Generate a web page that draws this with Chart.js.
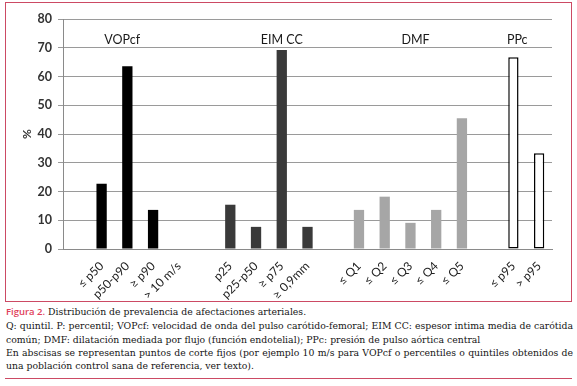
<!DOCTYPE html>
<html>
<head>
<meta charset="utf-8">
<script src="https://cdn.jsdelivr.net/npm/chart.js@4.4.1/dist/chart.umd.min.js"></script>
<style>
  html, body { margin: 0; padding: 0; background: #fff; }
  body { width: 577px; height: 386px; position: relative; overflow: hidden; }
  #box { position: absolute; left: 5px; top: 2px; width: 565px; height: 298px; border: 1.5px solid #cc4a64; }
  #wrap { position: absolute; left: 0; top: 0; width: 577px; height: 300px; }
  .cap { position: absolute; left: 6px; width: 567px; font-family: "DejaVu Serif", serif; font-size: 9.3px; color: #151515; line-height: 13.5px; white-space: nowrap; }
  .just { text-align: justify; text-align-last: justify; }
  #fig { color: #e0405a; font-family: "Open Sans", sans-serif; font-weight: 600; font-size: 9.5px; }
  #rule { position: absolute; left: 5px; top: 378px; width: 567px; height: 0; border-top: 1.5px solid #cc4a64; }
</style>
</head>
<body>
<div id="box"></div>
<div id="wrap"><canvas id="c" width="577" height="300"></canvas></div>
<div class="cap" style="top:305px"><span id="fig">Figura 2.</span> Distribución de prevalencia de afectaciones arteriales.</div>
<div class="cap just" style="top:319px">Q: quintil. P: percentil; VOPcf: velocidad de onda del pulso carótido-femoral; EIM CC: espesor intima media de carótida</div>
<div class="cap" style="top:333px">común; DMF: dilatación mediada por flujo (función endotelial); PPc: presión de pulso aórtica central</div>
<div class="cap just" style="top:346px">En abscisas se representan puntos de corte fijos (por ejemplo 10 m/s para VOPcf o percentiles o quintiles obtenidos de</div>
<div class="cap" style="top:359px">una población control sana de referencia, ver texto).</div>
<div id="rule"></div>
<script>
// ---- data ----
const groupNames = ['VOPcf', 'EIM CC', 'DMF', 'PPc'];
const vopLabels = ['≤ p50', 'p50-p90', '≥ p90', '> 10 m/s'];
const vopValues = [22.7, 63.6, 13.6, 0];
const eimLabels = ['p25', 'p25-p50', '≥ p75', '≥ 0,9mm'];
const eimValues = [15.4, 7.7, 69.2, 7.7];
const dmfLabels = ['≤ Q1', '≤ Q2', '≤ Q3', '≤ Q4', '≤ Q5'];
const dmfValues = [13.6, 18.2, 9.1, 13.6, 45.5];
const ppcLabels = ['≤ p95', '> p95'];
const ppcValues = [66.7, 33.3];
const yTicks = [0, 10, 20, 30, 40, 50, 60, 70, 80];

// ---- build ----
const groups = [
  { labels: vopLabels, values: vopValues, fill: '#000000', border: '#000000', bw: 0 },
  { labels: eimLabels, values: eimValues, fill: '#3a3a3a', border: '#3a3a3a', bw: 0 },
  { labels: dmfLabels, values: dmfValues, fill: '#a6a6a6', border: '#a6a6a6', bw: 0 },
  { labels: ppcLabels, values: ppcValues, fill: '#ffffff', border: '#000000', bw: 1.5 }
];
const labels = [], values = [], fills = [], borders = [], bws = [];
groups.forEach(g => {
  labels.push(''); values.push(null); fills.push('#fff'); borders.push('#fff'); bws.push(0);
  g.labels.forEach((l, i) => {
    labels.push(l); values.push(g.values[i]); fills.push(g.fill); borders.push(g.border); bws.push(g.bw);
  });
});

// group title anchor (index position in category space) — styling only
const groupPos = [1.8, 8, 13.2, 17.15];
const groupTitlePlugin = {
  id: 'groupTitles',
  afterDatasetsDraw(chart) {
    const { ctx, scales: { x, y } } = chart;
    ctx.save();
    ctx.font = '12.5px Lato, "Open Sans", sans-serif';
    ctx.fillStyle = '#1a1a1a';
    ctx.textAlign = 'center';
    ctx.textBaseline = 'middle';
    groupNames.forEach((n, i) => {
      ctx.fillText(n, x.getPixelForValue(groupPos[i]), y.getPixelForValue(72.8));
    });
    ctx.restore();
  }
};

new Chart(document.getElementById('c'), {
  type: 'bar',
  data: {
    labels: labels,
    datasets: [{
      data: values,
      backgroundColor: fills,
      borderColor: borders,
      borderWidth: bws,
      borderSkipped: false,
      barPercentage: 0.4,
      categoryPercentage: 1.0
    }]
  },
  options: {
    responsive: false,
    animation: false,
    layout: { padding: { top: 19, right: 25, left: 0, bottom: 0 } },
    plugins: { legend: { display: false }, tooltip: { enabled: false } },
    scales: {
      x: {
        grid: { display: false },
        border: { display: true, color: '#8a8a8a', width: 1 },
        ticks: {
          autoSkip: false, minRotation: 45, maxRotation: 45, padding: 2,
          color: '#222', font: { family: 'Lato, "Open Sans", sans-serif', size: 12 }
        },
        afterFit(s) { s.height = 51; }
      },
      y: {
        min: 0, max: 80,
        afterBuildTicks(s) { s.ticks = yTicks.map(v => ({ value: v })); },
        grid: { color: '#9a9a9a', lineWidth: 1, drawTicks: true, tickLength: 5 },
        border: { display: true, color: '#8a8a8a', width: 1 },
        ticks: {
          padding: 6, color: '#333',
          font: { family: 'Lato, "Open Sans", sans-serif', size: 12.5, weight: 'bold' }
        },
        title: {
          display: true, text: '%', color: '#333',
          font: { family: 'Lato, "Open Sans", sans-serif', size: 12, weight: 'bold' },
          padding: { top: 20, bottom: 0 }
        },
        afterFit(s) { s.width = 63; }
      }
    }
  },
  plugins: [groupTitlePlugin]
});
</script>
</body>
</html>
